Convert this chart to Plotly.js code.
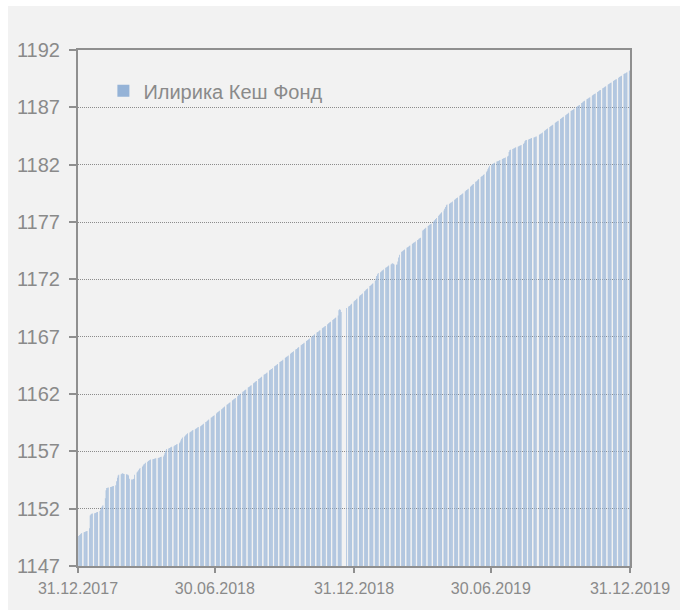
<!DOCTYPE html>
<html>
<head>
<meta charset="utf-8">
<script src="https://cdn.plot.ly/plotly-3.0.1.min.js"></script>
<style>
  html, body { margin: 0; padding: 0; background: #ffffff; }
  #chart { position: absolute; left: 8px; top: 6px; width: 672px; height: 604px; }
</style>
</head>
<body>
<div id="chart"></div>
<script>
// Series name
const seriesName = 'Илирика Кеш Фонд';

// First Monday of the series; each row below is one week (Mon..Fri), null = no quote
const firstMonday = '2018-01-01';

const navByWeek = [
  [1149.62, 1149.70, 1149.76, 1149.82, 1149.88],
  [1149.95, 1149.97, 1150.00, 1150.02, 1150.05],
  [1150.30, 1151.40, 1151.50, 1151.55, 1151.58],
  [1151.60, 1151.63, 1151.65, 1151.70, 1151.72],
  [1151.80, 1151.95, 1152.10, 1152.20, 1152.30],
  [1152.90, 1153.60, 1153.80, 1153.82, 1153.85],
  [1153.88, 1153.90, 1153.93, 1153.95, 1153.98],
  [1154.05, 1154.40, 1154.70, 1154.90, 1154.95],
  [1155.00, 1155.05, 1155.08, 1155.05, 1155.02],
  [1155.00, 1154.98, 1154.95, 1154.90, 1154.60],
  [1154.55, 1154.55, 1154.58, 1154.60, 1154.95],
  [1155.15, 1155.25, 1155.35, 1155.45, 1155.55],
  [1155.65, 1155.75, 1155.85, 1155.92, 1156.00],
  [1156.10, 1156.15, 1156.20, 1156.24, 1156.28],
  [1156.30, 1156.33, 1156.36, 1156.38, 1156.40],
  [1156.42, 1156.45, 1156.47, 1156.50, 1156.52],
  [1156.55, 1156.70, 1156.85, 1157.05, 1157.20],
  [1157.25, 1157.30, 1157.33, 1157.36, 1157.40],
  [1157.45, 1157.50, 1157.55, 1157.60, 1157.65],
  [1157.70, 1157.80, 1157.95, 1158.10, 1158.20],
  [1158.30, 1158.38, 1158.45, 1158.52, 1158.58],
  [1158.64, 1158.70, 1158.76, 1158.82, 1158.87],
  [1158.92, 1158.97, 1159.02, 1159.07, 1159.12],
  [1159.18, 1159.23, 1159.29, 1159.34, 1159.40],
  [1159.56, 1159.61, 1159.67, 1159.72, 1159.78],
  [1159.93, 1159.98, 1160.04, 1160.09, 1160.15],
  [1160.31, 1160.36, 1160.42, 1160.47, 1160.53],
  [1160.68, 1160.73, 1160.79, 1160.84, 1160.90],
  [1161.06, 1161.11, 1161.17, 1161.22, 1161.28],
  [1161.43, 1161.48, 1161.54, 1161.59, 1161.65],
  [1161.81, 1161.86, 1161.92, 1161.97, 1162.03],
  [1162.19, 1162.24, 1162.30, 1162.35, 1162.40],
  [1162.56, 1162.61, 1162.66, 1162.72, 1162.77],
  [1162.93, 1162.98, 1163.03, 1163.09, 1163.14],
  [1163.30, 1163.35, 1163.40, 1163.46, 1163.51],
  [1163.67, 1163.72, 1163.77, 1163.82, 1163.88],
  [1164.04, 1164.09, 1164.14, 1164.19, 1164.25],
  [1164.41, 1164.46, 1164.51, 1164.56, 1164.62],
  [1164.78, 1164.83, 1164.88, 1164.93, 1164.99],
  [1165.14, 1165.20, 1165.25, 1165.30, 1165.35],
  [1165.51, 1165.57, 1165.62, 1165.67, 1165.72],
  [1165.88, 1165.93, 1165.99, 1166.04, 1166.09],
  [1166.25, 1166.30, 1166.36, 1166.41, 1166.46],
  [1166.62, 1166.67, 1166.72, 1166.78, 1166.83],
  [1166.99, 1167.04, 1167.09, 1167.15, 1167.20],
  [1167.36, 1167.41, 1167.46, 1167.51, 1167.57],
  [1167.73, 1167.78, 1167.83, 1167.88, 1167.93],
  [1168.09, 1168.15, 1168.20, 1168.25, 1168.30],
  [1168.46, 1168.52, 1168.57, 1168.62, 1168.67],
  [1168.85, 1169.30, 1169.40, 1169.35, 1169.15],
  [null, null, null, null, 1169.50],
  [1169.62, 1169.68, 1169.75, 1169.81, 1169.88],
  [1170.07, 1170.13, 1170.20, 1170.26, 1170.32],
  [1170.51, 1170.58, 1170.64, 1170.70, 1170.77],
  [1170.96, 1171.02, 1171.09, 1171.15, 1171.21],
  [1171.41, 1171.47, 1171.53, 1171.60, 1171.66],
  [1171.85, 1172.05, 1172.30, 1172.45, 1172.55],
  [1172.62, 1172.68, 1172.74, 1172.80, 1172.86],
  [1173.00, 1173.05, 1173.10, 1173.15, 1173.20],
  [1173.30, 1173.35, 1173.40, 1173.35, 1173.30],
  [1173.28, 1173.30, 1173.55, 1173.90, 1174.15],
  [1174.40, 1174.45, 1174.50, 1174.55, 1174.60],
  [1174.75, 1174.80, 1174.85, 1174.90, 1174.95],
  [1175.09, 1175.14, 1175.19, 1175.24, 1175.29],
  [1175.43, 1175.48, 1175.53, 1175.58, 1175.62],
  [1176.25, 1176.32, 1176.38, 1176.44, 1176.50],
  [1176.65, 1176.70, 1176.75, 1176.80, 1176.85],
  [1177.03, 1177.10, 1177.18, 1177.26, 1177.34],
  [1177.55, 1177.63, 1177.70, 1177.78, 1177.85],
  [1178.00, 1178.15, 1178.30, 1178.45, 1178.52],
  [1178.58, 1178.63, 1178.68, 1178.73, 1178.78],
  [1178.94, 1178.99, 1179.04, 1179.09, 1179.14],
  [1179.30, 1179.35, 1179.40, 1179.45, 1179.50],
  [1179.66, 1179.72, 1179.78, 1179.84, 1179.90],
  [1180.08, 1180.14, 1180.20, 1180.26, 1180.32],
  [1180.50, 1180.56, 1180.62, 1180.68, 1180.74],
  [1180.92, 1180.98, 1181.04, 1181.10, 1181.16],
  [1181.33, 1181.45, 1181.60, 1181.75, 1181.90],
  [1182.00, 1182.05, 1182.09, 1182.13, 1182.17],
  [1182.27, 1182.30, 1182.33, 1182.37, 1182.40],
  [1182.49, 1182.52, 1182.55, 1182.58, 1182.62],
  [1182.72, 1182.78, 1183.10, 1183.25, 1183.30],
  [1183.36, 1183.40, 1183.44, 1183.48, 1183.52],
  [1183.56, 1183.60, 1183.64, 1183.68, 1183.72],
  [1183.80, 1183.90, 1184.05, 1184.12, 1184.16],
  [1184.20, 1184.23, 1184.26, 1184.29, 1184.32],
  [1184.36, 1184.40, 1184.43, 1184.46, null],
  [1184.60, 1184.65, 1184.70, 1184.75, 1184.80],
  [1184.95, 1185.00, 1185.05, 1185.10, 1185.15],
  [1185.29, 1185.34, 1185.39, 1185.44, 1185.49],
  [1185.64, 1185.69, 1185.74, 1185.79, 1185.84],
  [1185.98, 1186.03, 1186.08, 1186.13, 1186.18],
  [1186.32, 1186.37, 1186.42, 1186.47, 1186.52],
  [1186.67, 1186.72, 1186.77, 1186.82, 1186.87],
  [1187.01, 1187.06, 1187.11, 1187.16, 1187.21],
  [1187.38, 1187.43, 1187.48, 1187.53, 1187.58],
  [1187.70, 1187.75, 1187.79, 1187.84, 1187.88],
  [1188.02, 1188.07, 1188.11, 1188.16, 1188.20],
  [1188.34, 1188.39, 1188.43, 1188.48, 1188.52],
  [1188.66, 1188.71, 1188.75, 1188.80, 1188.84],
  [1188.98, 1189.03, 1189.07, 1189.12, 1189.16],
  [1189.29, 1189.34, 1189.38, 1189.42, 1189.46],
  [1189.59, 1189.64, 1189.68, 1189.72, 1189.76],
  [1189.90, 1189.94, 1189.98, 1190.02, 1190.06],
  [1190.18, 1190.22]
];

// Axis ticks
const xTickDates  = ['2017-12-31', '2018-06-30', '2018-12-31', '2019-06-30', '2019-12-31'];
const xTickLabels = ['31.12.2017', '30.06.2018', '31.12.2018', '30.06.2019', '31.12.2019'];
const yTickValues = [1147, 1152, 1157, 1162, 1167, 1172, 1177, 1182, 1187, 1192];
const xRange = ['2017-12-31', '2019-12-31'];
const yRange = [1147, 1192];

// Build date / value lists (trading days only)
const DAY = 86400000;
const start = new Date(firstMonday + 'T00:00:00Z').getTime();
const dates = [];
const navs = [];
navByWeek.forEach((week, w) => {
  week.forEach((v, d) => {
    if (v === null) return;
    dates.push(new Date(start + (w * 7 + d) * DAY).toISOString().slice(0, 10));
    navs.push(v);
  });
});

const FONT = 'Liberation Sans, Arial, sans-serif';
const TXT = '#8a8a8a';
const AX = '#8f8f8f';

const trace = {
  type: 'bar',
  x: dates,
  y: navs,
  name: seriesName,
  showlegend: true,
  marker: { color: '#95B3D7', line: { width: 0 } },
  hoverinfo: 'x+y'
};

const layout = {
  width: 672,
  height: 604,
  margin: { l: 70, r: 50, t: 44, b: 44, pad: 0 },
  paper_bgcolor: '#f2f2f2',
  plot_bgcolor: '#f2f2f2',
  font: { family: FONT, color: TXT, size: 16 },
  bargap: 0.2,
  showlegend: true,
  legend: {
    x: 0.046, xanchor: 'left',
    y: 0.921, yanchor: 'middle',
    bgcolor: 'rgba(0,0,0,0)',
    font: { family: FONT, size: 20, color: TXT },
    itemwidth: 30
  },
  xaxis: {
    type: 'date',
    range: xRange,
    tickmode: 'array',
    tickvals: xTickDates,
    ticktext: xTickLabels,
    ticks: 'outside',
    ticklen: 5,
    tickwidth: 2,
    tickcolor: AX,
    showline: true,
    linecolor: AX,
    linewidth: 2,
    mirror: true,
    showgrid: false,
    zeroline: false,
    tickfont: { family: FONT, size: 16, color: TXT },
    ticklabelstandoff: 2
  },
  yaxis: {
    range: yRange,
    tickmode: 'array',
    tickvals: yTickValues,
    ticktext: yTickValues.map(String),
    ticks: 'outside',
    ticklen: 7,
    tickwidth: 2,
    tickcolor: AX,
    showline: true,
    linecolor: AX,
    linewidth: 2,
    mirror: true,
    showgrid: true,
    gridcolor: '#8c8c8c',
    gridwidth: 1,
    griddash: '1px,1px',
    zeroline: false,
    tickfont: { family: FONT, size: 20, color: TXT },
    ticklabelstandoff: 5
  }
};

Plotly.newPlot('chart', [trace], layout, { staticPlot: true, displayModeBar: false });
</script>
</body>
</html>
